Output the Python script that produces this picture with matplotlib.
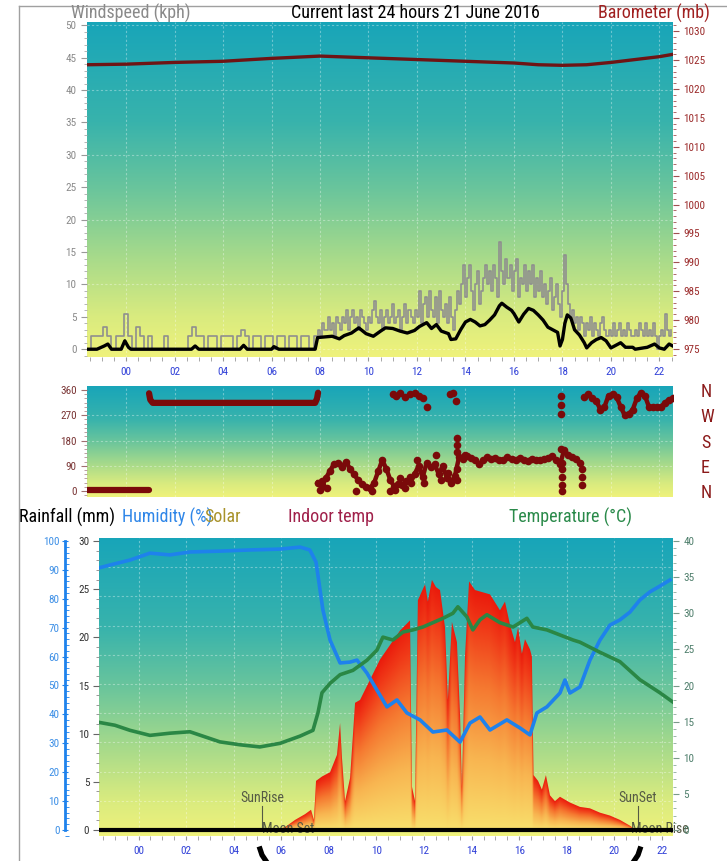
import numpy as np
import matplotlib.pyplot as plt
import matplotlib.transforms as mtransforms
from matplotlib import font_manager
from matplotlib.colors import LinearSegmentedColormap
from matplotlib.lines import Line2D
from matplotlib.ticker import MultipleLocator

W, H = 727, 861

# pick a narrow face if one is installed, the original uses a condensed sans
_fm = font_manager.fontManager
_names = {f.name for f in _fm.ttflist}
if 'Liberation Sans Narrow' in _names:
    FAM, STRETCH, HDR, TCK = 'Liberation Sans Narrow', 'normal', 14, 8.5
elif 'Roboto Condensed' in _names:
    FAM, STRETCH, HDR, TCK = 'Roboto Condensed', 'normal', 13, 8
elif any(f.name == 'DejaVu Sans' and f.stretch in ('condensed', 'semi-condensed')
         for f in _fm.ttflist):
    FAM, STRETCH, HDR, TCK = 'DejaVu Sans', 'condensed', 11.5, 7.5
else:
    FAM, STRETCH, HDR, TCK = 'Liberation Sans', 'normal', 11.5, 7.5
plt.rcParams['font.family'] = [FAM, 'DejaVu Sans']
plt.rcParams['font.stretch'] = STRETCH

# ---------------- data (hours relative to midnight 21 June) ----------------
hour_labels = ['00', '02', '04', '06', '08', '10', '12', '14', '16', '18', '20', '22']

# wind gust: 10 minute samples overnight from 22:24, then 5 minute samples from 07:54
gust_night_start = -1.6
gust_night_kph = [0, 2, 2, 2, 3.5, 2, 0, 2, 2, 5.5,
                  2, 0, 3.5, 2, 0, 2,
                  0, 0, 0, 2, 0, 0,
                  0, 0, 0, 2, 3.5, 2,
                  2, 0, 2, 2, 0, 2,
                  2, 2, 0, 2, 3, 2,
                  0, 2, 2, 0, 2, 2,
                  0, 2, 2, 0, 2, 2,
                  0, 2, 2, 0, 2]
gust_day_start = 7.9
gust_day_kph = [3, 2, 4, 3, 3, 5, 3, 4, 2, 5, 4, 3,
                5, 4, 6, 3, 5, 6, 4, 5, 3, 6, 5, 4,
                3, 5, 4, 6, 7.5, 5, 4, 6, 3, 5, 6, 4,
                5, 7, 4, 5, 6, 3, 5, 7, 4, 6, 5, 4,
                6, 5, 9, 4, 7, 8, 5, 9, 6, 5, 8, 4,
                9, 6, 5, 7, 4, 8, 5, 3, 6, 9, 7, 10,
                13, 8, 11, 13, 9, 6, 10, 12, 7, 9, 11, 13,
                10, 12, 9, 13, 11, 8, 16.5, 12, 10, 14, 11, 13,
                9, 12, 14, 8, 11, 10, 13, 9, 12, 10, 13, 8,
                11, 9, 12, 8, 10, 7, 9, 11, 6, 8, 10, 7,
                5, 9, 14.5, 10, 7, 5, 6, 4, 5, 3, 5, 4,
                2, 4, 3, 5, 2, 4, 3, 2, 4, 5, 3, 2,
                3, 2, 4, 2, 3, 4, 2, 3, 2, 4, 3, 2,
                2, 3, 2, 4, 3, 2, 4, 2, 3, 2, 4, 2,
                0, 2, 3, 2, 5.5, 3, 2, 3]

avg_hours = [-1.6, -1.2, -0.9, -0.75, -0.6, -0.2, -0.05, 0.1, 0.2, 2.7, 2.85, 3.0,
             4.7, 4.85, 5.0, 6.0, 6.1, 6.3, 7.8, 7.9, 8.5, 8.8, 9.0, 9.3, 9.6, 9.9,
             10.2, 10.5, 10.7, 11.0, 11.3, 11.6, 11.9, 12.1, 12.4, 12.6, 12.8, 13.0,
             13.3, 13.4, 13.6, 13.8, 14.0, 14.2, 14.4, 14.6, 14.8, 15.0, 15.2, 15.4,
             15.5, 15.7, 15.9, 16.0, 16.2, 16.4, 16.6, 16.8, 17.0, 17.2, 17.4, 17.6,
             17.8, 17.9, 18.0, 18.1, 18.2, 18.35, 18.5, 18.7, 18.9, 19.0, 19.2, 19.4,
             19.6, 19.8, 20.0, 20.2, 20.4, 20.6, 20.9, 21.0, 21.5, 21.8, 22.0, 22.2,
             22.4, 22.55]
avg_kph = [0, 0, 0.5, 0.8, 0, 0, 1.3, 0.3, 0, 0, 0.5, 0,
           0, 0.6, 0, 0, 0.4, 0, 0, 1.8, 2.0, 1.6, 2.1, 2.5, 3.3, 2.4,
           2.0, 2.8, 3.3, 3.2, 2.8, 2.5, 2.9, 3.5, 4.1, 3.2, 3.8, 2.8,
           2.4, 1.5, 1.6, 3.0, 4.2, 4.6, 4.2, 3.6, 3.8, 4.5, 5.3, 6.7,
           7.1, 6.5, 6.0, 5.5, 4.2, 5.4, 6.3, 6.0, 5.3, 4.5, 3.4, 3.0,
           2.6, 0.5, 1.5, 4.0, 5.3, 4.8, 3.0, 2.2, 1.0, 0.2, 1.0, 1.5,
           1.8, 1.3, 0.2, 0.6, 1.0, 0.3, 0.3, 0, 0.3, 0.8, 0.2, 0,
           0.8, 0.5]

baro_hours = [-1.6, 0, 2, 4, 6, 8, 10, 12, 14, 16, 17, 18, 19, 20, 21, 22, 22.55]
baro_mb = [1024.2, 1024.3, 1024.6, 1024.8, 1025.3, 1025.7, 1025.4, 1025.1, 1024.8,
           1024.5, 1024.2, 1024.1, 1024.2, 1024.6, 1025.1, 1025.6, 1026.0]

# wind direction: steady calm-time readings
dir_low_hours = [-1.6, 0.95]
dir_low_deg = [4, 4]
dir_high_hours = [0.95, 1.0, 1.1, 7.8, 7.88, 7.92]
dir_high_deg = [348, 325, 314, 314, 330, 350]
# wind direction: 10 minute readings from 07:54
dir_start = 7.9
dir_deg = [30, 20, 45, 70, 95, 100, 85, 105, 80, 60, 40, 25, 15, 10, 30, 70, 110, 80,
           40, 15, 25, 20, 35, 30, 60, 90, 50, 100, 85, 95, 60, 90, 45, 30, 55, 120,
           115, 125, 118, 112, 95, 110, 120, 115, 118, 110, 112, 120, 115, 110, 118,
           112, 108, 115, 112, 110, 115, 118, 125, 110, 95, 145, 130, 120, 115, 100,
           335, 345, 330, 320, 290, 300, 340, 345, 335, 300, 270, 275, 290, 330, 350,
           340, 300, 298, 300, 300, 315, 325, 330]
# scattered readings
dir_extra_hours = [8.0, 8.1, 8.3, 9.5, 10.15, 10.9, 11.1, 11.3, 11.5, 11.7, 12.0, 12.3,
                   12.8, 13.0, 13.3, 13.65, 13.65, 13.65, 13.65, 13.65, 14.0,
                   18.0, 18.0, 18.0, 18.0, 18.0, 17.95, 18.8, 18.8, 18.8,
                   11.0, 11.15, 11.3, 11.5, 11.7, 11.9, 12.1, 12.25, 12.4,
                   13.35, 13.5, 13.6, 17.95, 17.95, 17.95]
dir_extra_deg = [5, 35, 10, 0, 0, 0, 5, 45, 10, 50, 110, 30,
                 130, 40, 65, 40, 80, 140, 165, 190, 130,
                 0, 20, 50, 80, 100, 150, 20, 50, 80,
                 345, 340, 350, 335, 345, 350, 340, 330, 300,
                 345, 350, 320, 340, 305, 275]

hum_hours = [-1.66, -1.2, -0.36, 0.48, 1.32, 2.16, 3.42, 4.68, 5.95, 6.79, 7.2, 7.46,
             7.75, 8.05, 8.47, 8.89, 9.18, 9.6, 10.02, 10.44, 10.86, 11.28, 11.83,
             12.37, 12.96, 13.51, 13.93, 14.35, 14.77, 15.48, 16.03, 16.45, 16.74,
             17.16, 17.71, 17.92, 18.13, 18.55, 18.97, 19.39, 19.81, 20.23, 20.65,
             21.07, 21.49, 21.91, 22.33]
hum_pct = [90.7, 91.7, 93.4, 95.8, 95.2, 96.2, 96.5, 96.9, 97.2, 97.9, 96.9, 92.7,
           76.1, 65.7, 57.8, 58.1, 58.8, 54.3, 48.4, 42.6, 45.0, 40.5, 38.1,
           33.9, 34.6, 30.4, 37.0, 39.1, 34.6, 38.1, 35.3, 32.9, 40.5,
           42.6, 47.4, 51.9, 47.4, 49.5, 58.8, 65.7, 70.9, 72.7, 75.4,
           79.6, 82.4, 84.4, 86.5]

temp_hours = [-1.66, -0.99, -0.36, 0.48, 1.32, 2.16, 2.79, 3.42, 4.26, 5.1, 5.95, 6.79,
              7.33, 7.54, 7.71, 8.05, 8.47, 9.01, 9.6, 10.02, 10.27, 10.69, 11.11,
              11.53, 11.95, 12.37, 12.79, 13.21, 13.42, 13.8, 14.05, 14.35, 14.64,
              15.19, 15.74, 16.32, 16.57, 17.16, 17.71, 18.26, 18.55, 19.39, 20.23,
              21.07, 21.91, 22.46]
temp_c = [14.9, 14.5, 13.8, 13.1, 13.4, 13.6, 12.9, 12.2, 11.8, 11.5, 12.0, 13.0,
          13.8, 16.2, 19.0, 20.3, 21.5, 22.1, 23.5, 24.9, 26.7, 26.3, 27.4,
          27.7, 28.1, 28.7, 29.3, 30.0, 30.9, 29.5, 27.7, 29.1, 29.8,
          28.7, 28.1, 29.3, 28.1, 27.7, 27.0, 26.3, 26.0, 24.6, 23.3,
          20.8, 19.0, 17.7]

solar_hours = [5.78, 6.16, 6.58, 7.0, 7.25, 7.37, 7.46, 7.71, 8.05, 8.34, 8.47, 8.55,
               8.68, 8.89, 9.1, 9.31, 9.73, 10.15, 10.57, 10.99, 11.41, 11.49, 11.62,
               11.74, 12.04, 12.16, 12.33, 12.5, 12.67, 12.88, 13.0, 13.17, 13.38,
               13.51, 13.59, 13.72, 13.89, 14.14, 14.77, 15.19, 15.4, 15.61, 15.82,
               15.95, 16.11, 16.24, 16.45, 16.53, 16.6, 16.79, 16.95, 17.12, 17.29,
               17.5, 17.71, 18.13, 18.55, 18.97, 19.39, 19.81, 20.23, 20.65, 20.9]
solar_wm2 = [0, 10, 35, 55, 70, 35, 170, 185, 200, 260, 370, 250,
             100, 180, 440, 450, 520, 590, 640, 690, 725, 150, 100,
             795, 850, 790, 865, 840, 830, 700, 450, 720, 650,
             400, 150, 600, 860, 830, 815, 760, 790, 710, 650,
             700, 610, 660, 625, 600, 190, 170, 140, 190, 120,
             100, 115, 95, 80, 75, 60, 50, 35, 15, 0]

rain_hours = [-1.66, 22.46]
rain_mm = [0, 0]

sunrise, sunset = 5.19, 20.99
moonset, moonrise = 6.28, 21.9

# ---------------- helpers ----------------
def pos(x0, y0, x1, y1):
    return [x0 / W, 1 - y1 / H, (x1 - x0) / W, (y1 - y0) / H]

bg_cmap = LinearSegmentedColormap.from_list('bg', [
    (0.0, '#eff27b'), (0.12, '#d9eb7f'), (0.3, '#a6da8b'), (0.5, '#6ac59c'),
    (0.7, '#38b3ac'), (1.0, '#18a5b9')])
solar_cmap = LinearSegmentedColormap.from_list('solar', [
    (0.0, '#f9df6c'), (0.3, '#f8b450'), (0.6, '#f57830'), (0.85, '#f03a18'),
    (1.0, '#ea1a0c')])

grad = np.linspace(0, 1, 256).reshape(-1, 1)

def add_bg(ax):
    ax.imshow(grad, extent=[0, 1, 0, 1], transform=ax.transAxes, origin='lower',
              aspect='auto', cmap=bg_cmap, zorder=0, interpolation='bilinear')

def hide_spines(ax):
    for s in ax.spines.values():
        s.set_visible(False)

def grid_v(ax, y0, y1):
    for h in range(0, 23, 2):
        ax.plot([h, h], [y0, y1], color='white', alpha=0.35, lw=0.8, ls=(0, (2, 2)), zorder=1)

def grid_h(ax, levels, x0, x1):
    for v in levels:
        ax.plot([x0, x1], [v, v], color='white', alpha=0.35, lw=0.8, ls=(0, (2, 2)), zorder=1)

blue = '#3040d8'

fig = plt.figure(figsize=(W / 100, H / 100), dpi=100)
fig.patch.set_facecolor('white')

# ---------------- top: wind speed & barometer ----------------
xl_top = (-1.61, 22.56)
ax1 = fig.add_axes(pos(87, 22, 673, 357))
add_bg(ax1)
grid_v(ax1, -1.2, 50.5)
grid_h(ax1, range(0, 51, 10), *xl_top)
gust_hours = ([gust_night_start + i / 6 for i in range(len(gust_night_kph))] +
              [gust_day_start + i / 12 for i in range(len(gust_day_kph))])
ax1.step(gust_hours, gust_night_kph + gust_day_kph, where='post', color='#8f8f8f',
         lw=1.2, zorder=3)
ax1.plot(avg_hours, avg_kph, color='black', lw=2.4, zorder=4)
ax1.set_xlim(*xl_top)
ax1.set_ylim(-1.2, 50.5)
ax1.set_xticks(range(0, 23, 2))
ax1.set_xticklabels(hour_labels)
ax1.xaxis.set_minor_locator(MultipleLocator(0.5))
ax1.yaxis.set_major_locator(MultipleLocator(5))
ax1.yaxis.set_minor_locator(MultipleLocator(1))
ax1.tick_params(axis='x', which='both', colors='#999999', labelcolor=blue, labelsize=TCK,
                length=3, pad=4)
ax1.tick_params(axis='y', which='major', colors='#999999', labelcolor='#8a8a8a',
                labelsize=TCK, length=4)
ax1.tick_params(axis='y', which='minor', colors='#aaaaaa', length=2)
hide_spines(ax1)

ax1b = ax1.twinx()
ax1b.plot(baro_hours, baro_mb, color='#6e1414', lw=2.4, zorder=3)
ax1b.set_ylim(973.6, 1031.6)
ax1b.yaxis.set_major_locator(MultipleLocator(5))
ax1b.yaxis.set_minor_locator(MultipleLocator(1))
ax1b.tick_params(axis='y', which='major', colors='#a05050', labelcolor='#9b2a2a',
                 labelsize=TCK, length=4)
ax1b.tick_params(axis='y', which='minor', colors='#a05050', length=2)
hide_spines(ax1b)

fig.text(71 / W, 1 - 13 / H, 'Windspeed (kph)', color='#8a8a8a', fontsize=HDR, va='center')
fig.text(415 / W, 1 - 13 / H, 'Current last 24 hours 21 June 2016', color='black',
         fontsize=HDR, va='center', ha='center')
fig.text(710 / W, 1 - 13 / H, 'Barometer (mb)', color='#a02020', fontsize=HDR,
         va='center', ha='right')

# ---------------- middle: wind direction ----------------
ax2 = fig.add_axes(pos(87, 386, 673, 497))
add_bg(ax2)
grid_v(ax2, -21, 374)
grid_h(ax2, [90, 180, 270], *xl_top)
dcol = '#7a0a0a'
ax2.plot(dir_low_hours, dir_low_deg, color=dcol, lw=4.5, solid_capstyle='round', zorder=3)
ax2.plot(dir_high_hours, dir_high_deg, color=dcol, lw=4.5, solid_capstyle='round', zorder=3)
dir_hours = [dir_start + i / 6 for i in range(len(dir_deg))]
# join neighbouring readings into a band, break it where the direction swings round
band_h, band_d = [dir_hours[0]], [dir_deg[0]]
for h, d, dprev in zip(dir_hours[1:], dir_deg[1:], dir_deg[:-1]):
    if abs(d - dprev) > 100:
        band_h.append(np.nan)
        band_d.append(np.nan)
    band_h.append(h)
    band_d.append(d)
ax2.plot(band_h, band_d, color=dcol, lw=3.2, zorder=3)
ax2.plot(dir_hours, dir_deg, 'o', color=dcol, ms=5.5, mew=0, zorder=3)
ax2.plot(dir_extra_hours, dir_extra_deg, 'o', color=dcol, ms=5.5, mew=0, zorder=3)
ax2.set_xlim(*xl_top)
ax2.set_ylim(-21, 374)
ax2.set_xticks([])
ax2.set_yticks([0, 90, 180, 270, 360])
ax2.yaxis.set_minor_locator(MultipleLocator(15))
ax2.tick_params(axis='y', which='major', colors='#a07070', labelcolor='#7a3535',
                labelsize=TCK, length=4)
ax2.tick_params(axis='y', which='minor', colors='#b09090', length=2)
hide_spines(ax2)
ax2r = ax2.twinx()
ax2r.set_ylim(-21, 374)
ax2r.set_yticks([0, 90, 180, 270, 360])
ax2r.set_yticklabels(['N', 'E', 'S', 'W', 'N'])
ax2r.tick_params(axis='y', length=0, pad=20, labelsize=HDR, labelcolor='#8b1a1a')
hide_spines(ax2r)

# ---------------- bottom: solar, rain, humidity, temperature ----------------
xl_bot = (-1.66, 22.46)
ax3 = fig.add_axes(pos(99, 538, 673, 836))
add_bg(ax3)
s_top = 1010
grid_v(ax3, -21, s_top)
grid_h(ax3, [v * 10.1 for v in range(10, 100, 10)], *xl_bot)

xs = np.linspace(xl_bot[0], xl_bot[1], 1000)
col_top = np.interp(xs, solar_hours, solar_wm2)
ys = np.linspace(0, 1000, 500)
frac = np.clip(ys[:, None] / np.maximum(col_top[None, :], 1), 0, 1)
im = ax3.imshow(solar_cmap(frac), extent=[xs[0], xs[-1], 0, 1000], origin='lower',
                aspect='auto', zorder=2, interpolation='bilinear')
poly = ax3.fill_between(solar_hours, 0, solar_wm2, facecolor='none', edgecolor='none')
im.set_clip_path(poly.get_paths()[0], transform=ax3.transData)

ax3.set_xlim(*xl_bot)
ax3.set_ylim(-20.7, s_top)
ax3.set_yticks([])
ax3.set_xticks(range(0, 23, 2))
ax3.set_xticklabels(hour_labels)
ax3.xaxis.set_minor_locator(MultipleLocator(0.5))
ax3.tick_params(axis='x', which='both', colors='#999999', labelcolor=blue, labelsize=TCK,
                length=3, pad=4)
hide_spines(ax3)

bt = mtransforms.blended_transform_factory(ax3.transData, ax3.transAxes)
ann = '#555a45'
for h, name in [(sunrise, 'SunRise'), (sunset, 'SunSet')]:
    ax3.text(h, 0.128, name, transform=bt, ha='center', va='center', fontsize=TCK + 2,
             color=ann, zorder=5)
    ax3.plot([h, h], [0.02, 0.10], transform=bt, color=ann, lw=0.8, zorder=5)
for h, name in [(moonset, 'Moon Set'), (moonrise, 'Moon Rise')]:
    ax3.text(h, 0.022, name, transform=bt, ha='center', va='center', fontsize=TCK + 2,
             color=ann, zorder=5, clip_on=False)

ax_rain = ax3.twinx()
ax_rain.plot(rain_hours, rain_mm, color='black', lw=3, zorder=3)
ax_rain.set_ylim(-0.62, 30.31)
ax_rain.yaxis.set_ticks_position('left')
ax_rain.yaxis.set_major_locator(MultipleLocator(5))
ax_rain.yaxis.set_minor_locator(MultipleLocator(1))
ax_rain.tick_params(axis='y', which='major', colors='#666666', labelcolor='#333333',
                    labelsize=TCK, length=4, pad=3)
ax_rain.tick_params(axis='y', which='minor', colors='#888888', length=2)
hide_spines(ax_rain)

hcol = '#1e82ec'
ax_hum = ax3.twinx()
ax_hum.plot(hum_hours, hum_pct, color=hcol, lw=2.6, zorder=3)
ax_hum.set_ylim(-2.08, 101.04)
hide_spines(ax_hum)
ax_hum.spines['left'].set_visible(True)
ax_hum.spines['left'].set_position(('outward', 24.5))
ax_hum.spines['left'].set_color(hcol)
ax_hum.spines['left'].set_linewidth(2)
ax_hum.spines['left'].set_bounds(0, 100)
ax_hum.yaxis.set_ticks_position('left')
ax_hum.yaxis.set_major_locator(MultipleLocator(10))
ax_hum.yaxis.set_minor_locator(MultipleLocator(2))
ax_hum.tick_params(axis='y', which='major', colors=hcol, labelcolor='#3d8fe6',
                   labelsize=TCK, length=4, direction='inout', pad=2)
ax_hum.tick_params(axis='y', which='minor', colors=hcol, length=3, direction='in')

tcol = '#2a8745'
ax_temp = ax3.twinx()
ax_temp.plot(temp_hours, temp_c, color=tcol, lw=2.6, zorder=3)
ax_temp.set_ylim(-0.83, 40.42)
ax_temp.yaxis.set_major_locator(MultipleLocator(5))
ax_temp.yaxis.set_minor_locator(MultipleLocator(1))
ax_temp.tick_params(axis='y', which='major', colors='#7a9a8a', labelcolor='#4f7f6c',
                    labelsize=TCK, length=4)
ax_temp.tick_params(axis='y', which='minor', colors='#8aa89a', length=2)
hide_spines(ax_temp)

ty = 1 - 517 / H
fig.text(19 / W, ty, 'Rainfall (mm)', color='black', fontsize=HDR, va='center')
fig.text(122 / W, ty, 'Humidity (%)', color='#2f86e8', fontsize=HDR, va='center')
fig.text(204 / W, ty, 'Solar', color='#a8922a', fontsize=HDR, va='center')
fig.text(288 / W, ty, 'Indoor temp', color='#a0204a', fontsize=HDR, va='center')
fig.text(509 / W, ty, 'Temperature (°C)', color='#2a8a4a', fontsize=HDR, va='center')

# frame lines and the sun path arc below the chart
fig.add_artist(Line2D([19 / W, 1], [1 - 6 / H, 1 - 6 / H], color='#a0a0a0', lw=1))
fig.add_artist(Line2D([19 / W, 19 / W], [0, 1 - 6 / H], color='#a0a0a0', lw=1))
fig.add_artist(Line2D([260 / W, 262 / W, 266 / W], [1 - 849 / H, 1 - 855 / H, 1 - 861 / H],
                      color='black', lw=3.8))
fig.add_artist(Line2D([640 / W, 638 / W, 634 / W], [1 - 849 / H, 1 - 855 / H, 1 - 861 / H],
                      color='black', lw=3.8))

fig.savefig('out.png', dpi=100)
